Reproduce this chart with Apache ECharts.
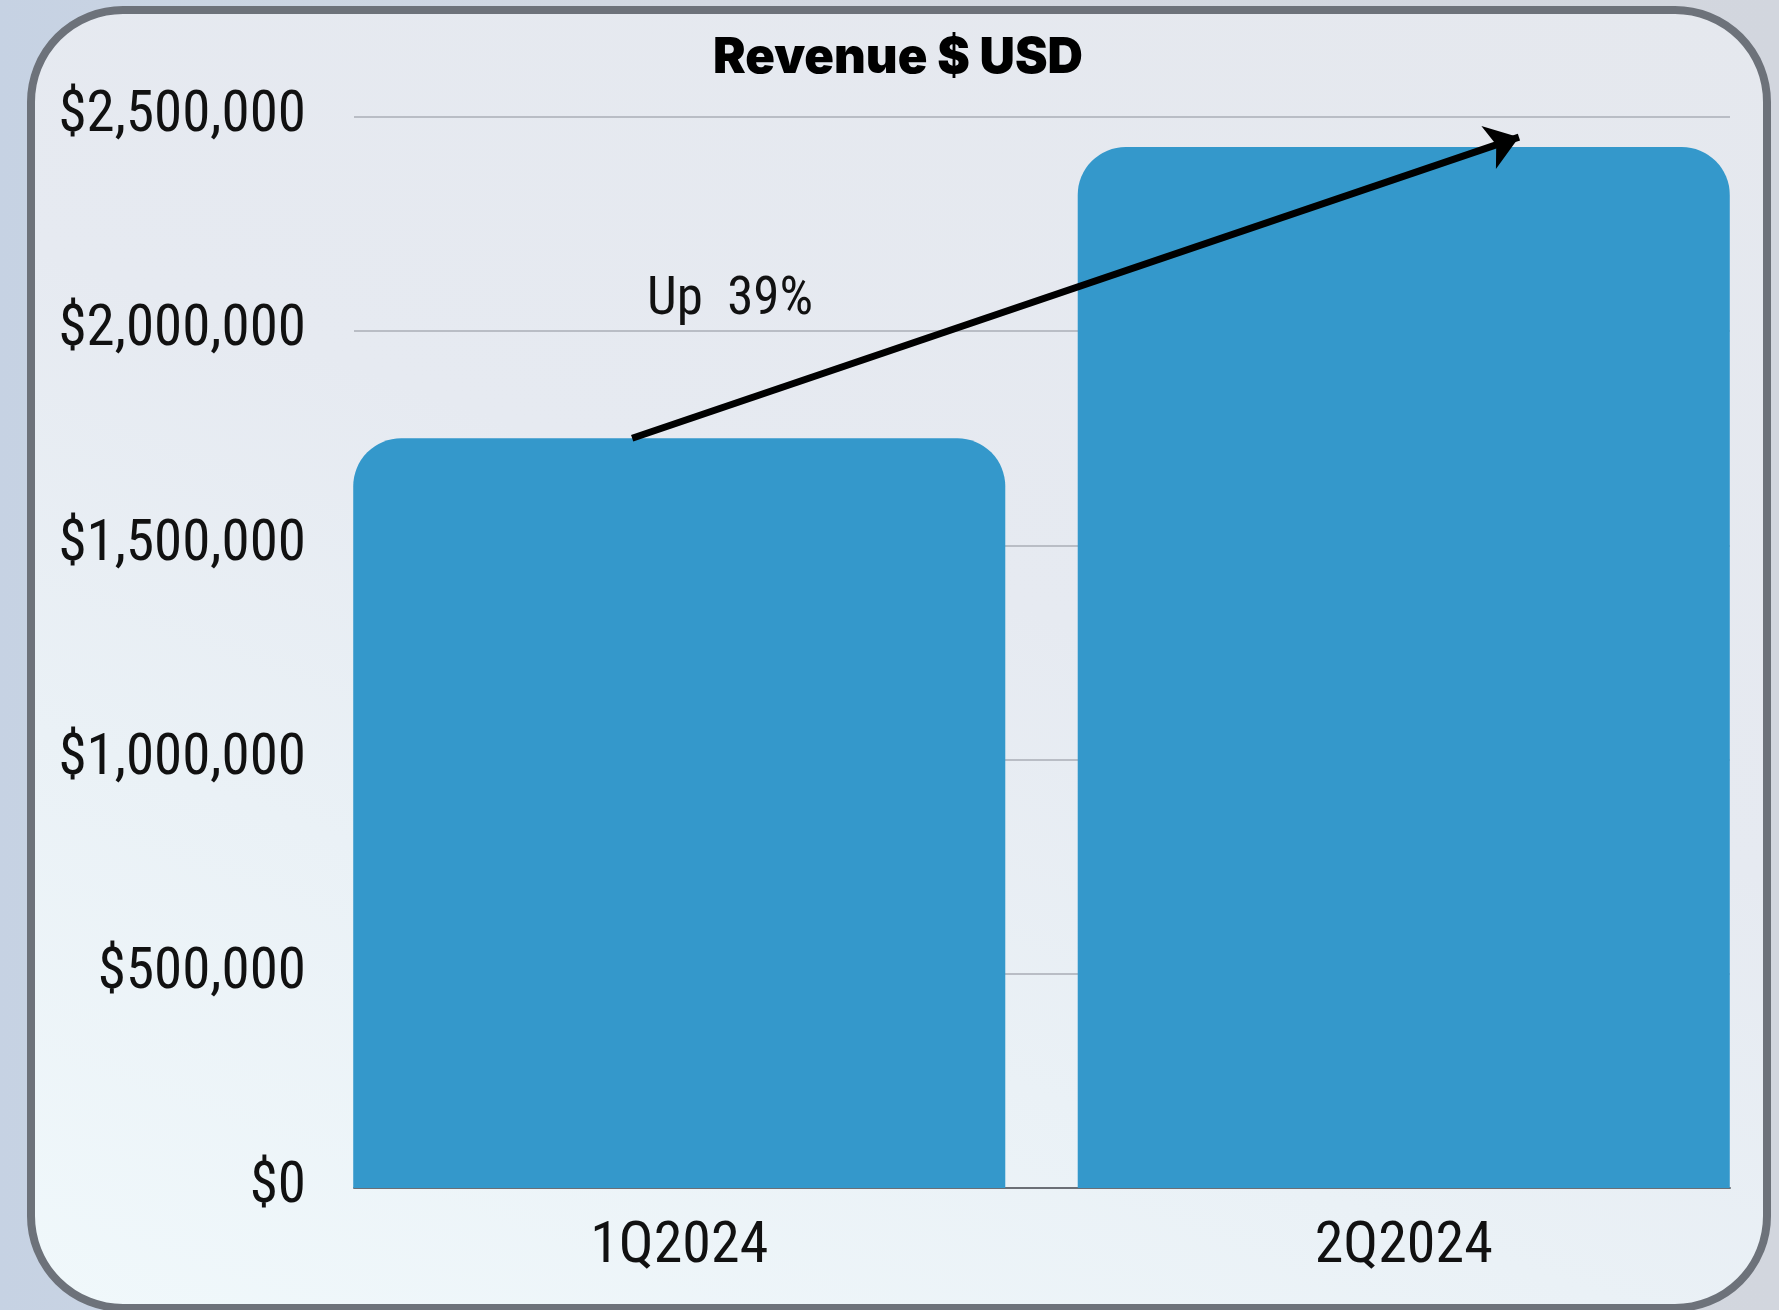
<!DOCTYPE html>
<html>
<head>
<meta charset="utf-8">
<script src="https://cdn.jsdelivr.net/npm/echarts@6/dist/echarts.min.js"></script>
<style>
  html, body {
    margin: 0;
    padding: 0;
    width: 1779px;
    height: 1310px;
    overflow: hidden;
    background: linear-gradient(to right, #c6d2e3 0%, #d3d9e2 40%, #d2d6de 100%);
  }
  .frame {
    position: absolute;
    left: 27px;
    top: 6px;
    width: 1728px;
    height: 1290px;
    border: 8px solid #6d727a;
    border-radius: 96px;
    background: linear-gradient(20deg, #f0f8fb 0%, #eaf1f6 30%, #e6eaf1 55%, #e5e8ee 100%);
  }
  #chart {
    position: absolute;
    left: 0;
    top: 0;
    width: 1779px;
    height: 1310px;
  }
</style>
</head>
<body>
<div class="frame"></div>
<div id="chart"></div>
<script>
// chart values
const categories = ["1Q2024", "2Q2024"];
const revenue = [1750000, 2430000];
const yTicks = [0, 500000, 1000000, 1500000, 2000000, 2500000];
const changeLabel = "Up  39%";
// annotation anchors, in data units (x: category index, y: dollars)
const arrowFrom = [-0.065, 1750000];
const arrowTo = [1.159, 2453000];
const labelAt = [0.07, 2070000];

const yMin = yTicks[0];
const yMax = yTicks[yTicks.length - 1];
const yStep = yTicks[1] - yTicks[0];

// narrow label font (font-stretch goes through the weight slot of the canvas font string)
const narrow = {
	fontFamily: "Roboto",
	fontStyle: "normal",
	fontWeight: "condensed",
	color: "#111"
};

const money = (v) => "$" + Number(v).toLocaleString("en-US");

const mychart = echarts.init(document.getElementById("chart"));
mychart.setOption({
	animation: false,
	title: {
		text: "Revenue $ USD",
		left: 893,
		top: 29,
		textAlign: "center",
		textStyle: {
			fontFamily: "Inter, 'DejaVu Sans', sans-serif",
			fontWeight: 900,
			fontSize: 49,
			color: "#000"
		}
	},
	grid: [
		// gridlines and y labels
		{ left: 354, right: 49, top: 117, bottom: 122 },
		// bars
		{ left: 317, right: 13, top: 117, bottom: 122 },
		// annotation overlay
		{ left: 317, right: 13, top: 117, bottom: 122 }
	],
	xAxis: [
		{
			gridIndex: 0,
			type: "category",
			data: categories,
			axisLine: { show: true, lineStyle: { color: "#6b6f76", width: 2 } },
			axisTick: { show: false },
			axisLabel: { show: false },
			splitLine: { show: false }
		},
		{
			gridIndex: 1,
			type: "category",
			data: categories,
			axisLine: { show: false },
			axisTick: { show: false },
			axisLabel: Object.assign({ margin: 30, fontSize: 58 }, narrow),
			splitLine: { show: false }
		},
		{
			gridIndex: 2,
			type: "value",
			min: -0.5,
			max: 1.5,
			show: false
		}
	],
	yAxis: [
		{
			gridIndex: 0,
			type: "value",
			min: yMin,
			max: yMax,
			interval: yStep,
			axisLine: { show: false },
			axisTick: { show: false },
			axisLabel: Object.assign({ margin: 48, fontSize: 57, formatter: money }, narrow),
			splitLine: { show: true, lineStyle: { color: "#b9bdc5", width: 2 } }
		},
		{ gridIndex: 1, type: "value", min: yMin, max: yMax, show: false, splitLine: { show: false } },
		{ gridIndex: 2, type: "value", min: yMin, max: yMax, show: false, splitLine: { show: false } }
	],
	series: [
		{
			name: "Revenue",
			type: "bar",
			xAxisIndex: 1,
			yAxisIndex: 1,
			barWidth: "90%",
			itemStyle: {
				color: "#3498cb",
				borderRadius: [48, 48, 0, 0]
			},
			data: revenue
		},
		{
			name: "change",
			type: "scatter",
			xAxisIndex: 2,
			yAxisIndex: 2,
			symbolSize: 0,
			silent: true,
			itemStyle: { opacity: 1 },
			label: Object.assign({
				show: true,
				position: "inside",
				formatter: changeLabel,
				fontSize: 53
			}, narrow),
			data: [labelAt],
			markLine: {
				silent: true,
				symbol: ["none", "arrow"],
				symbolSize: [34, 32],
				label: { show: false },
				lineStyle: { color: "#000", width: 7, type: "solid" },
				data: [[{ coord: arrowFrom }, { coord: arrowTo }]]
			}
		}
	]
});
</script>
</body>
</html>
